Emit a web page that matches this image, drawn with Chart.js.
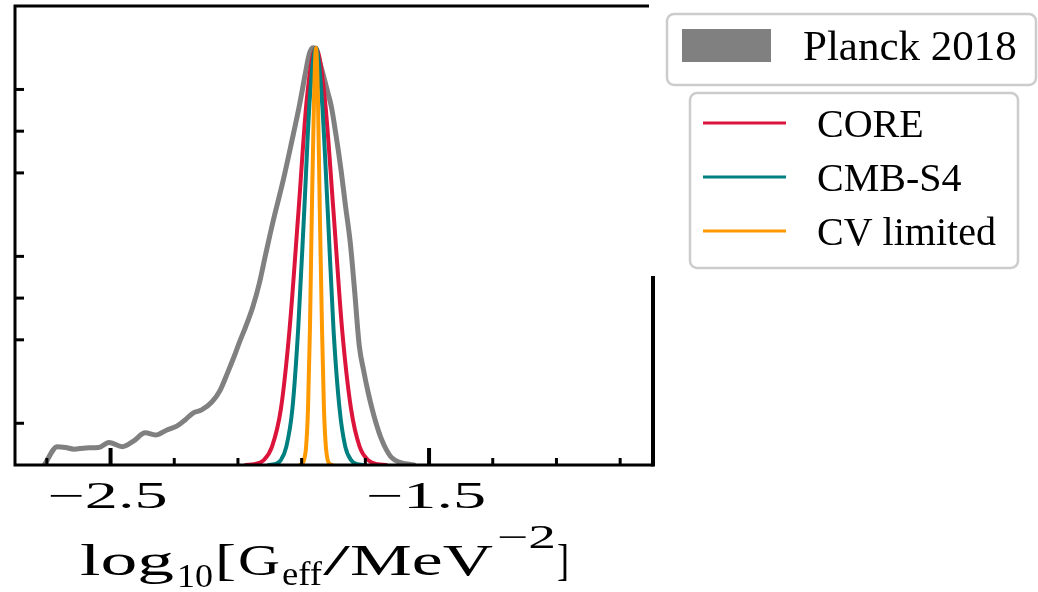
<!DOCTYPE html>
<html>
<head>
<meta charset="utf-8">
<script src="https://cdn.jsdelivr.net/npm/chart.js@4.4.1/dist/chart.umd.min.js"></script>
<style>
  html, body { margin: 0; padding: 0; background: #fff; }
  #wrap { width: 1038px; height: 592px; }
  canvas { display: block; }
</style>
</head>
<body>
<div id="wrap"><canvas id="geffChart" width="1038" height="592"></canvas></div>
<script>
// --- datos (posteriores normalizadas, pico = 1) --- //

const planckX = [-2.708, -2.667, -2.641, -2.615, -2.578, -2.537, -2.505, -2.463, -2.427, -2.391,
    -2.359, -2.323, -2.292, -2.266, -2.240, -2.214, -2.182, -2.156, -2.132, -2.112,
    -2.094, -2.075, -2.053, -2.033, -2.013, -1.990, -1.958, -1.932, -1.906, -1.888,
    -1.876, -1.865, -1.855, -1.845, -1.833, -1.818, -1.807, -1.792, -1.776, -1.763,
    -1.747, -1.734, -1.719, -1.705, -1.693, -1.680, -1.667, -1.650, -1.635, -1.619,
    -1.594, -1.547];
const planckY = [0, 0.044, 0.042, 0.038, 0.041, 0.042, 0.054, 0.044, 0.058, 0.077,
    0.072, 0.084, 0.093, 0.108, 0.125, 0.132, 0.151, 0.179, 0.222, 0.260,
    0.297, 0.333, 0.380, 0.435, 0.505, 0.583, 0.682, 0.772, 0.866, 0.940,
    0.985, 1.0, 0.995, 0.970, 0.937, 0.893, 0.860, 0.790, 0.705, 0.625,
    0.530, 0.420, 0.285, 0.225, 0.180, 0.138, 0.102, 0.063, 0.038, 0.019,
    0.007, 0];

const coreX = [-2.075, -2.048, -2.020, -1.993, -1.965, -1.938, -1.910, -1.883, -1.855,
    -1.828, -1.800, -1.773, -1.745, -1.718, -1.690, -1.663, -1.635];
const coreY = [0.0003, 0.002, 0.011, 0.044, 0.135, 0.325, 0.607, 0.883, 1,
    0.883, 0.607, 0.325, 0.135, 0.044, 0.011, 0.002, 0.0003];

const s4X = [-2.003, -1.985, -1.966, -1.948, -1.929, -1.911, -1.892, -1.874, -1.855,
    -1.837, -1.818, -1.800, -1.781, -1.763, -1.744, -1.726, -1.707];
const s4Y = [0.0003, 0.002, 0.011, 0.044, 0.135, 0.325, 0.607, 0.883, 1,
    0.883, 0.607, 0.325, 0.135, 0.044, 0.011, 0.002, 0.0003];

const cvX = [-1.905, -1.899, -1.893, -1.886, -1.880, -1.874, -1.868, -1.861, -1.855,
    -1.849, -1.843, -1.836, -1.830, -1.824, -1.818, -1.811, -1.805];
const cvY = [0.0003, 0.002, 0.011, 0.044, 0.135, 0.325, 0.607, 0.883, 1,
    0.883, 0.607, 0.325, 0.135, 0.044, 0.011, 0.002, 0.0003];

const xTicks = [-2.7, -2.5, -2.3, -2.1, -1.9, -1.7, -1.5, -1.3, -1.1, -0.9];
const xMajorTicks = [-2.5, -1.5];
const xTickLabels = ['−2.5', '−1.5'];
const yTicks = [0.1, 0.3, 0.4, 0.5, 0.7, 0.8, 0.9];

const seriesNames = ['Planck 2018', 'CORE', 'CMB-S4', 'CV limited'];

const themeColors = {
    planck: '#808080',
    core: '#dc143c',
    s4: '#008080',
    cv: '#ff9900',
    frame: '#000000',
    legendBorder: '#cccccc',
    text: '#000000'
};

const SERIF = '"Liberation Serif", "DejaVu Serif", serif';

function toPoints(xs, ys) {
    return xs.map((v, i) => ({ x: v, y: ys[i] }));
}

// la figura original esta estirada en horizontal: ajusto cada trozo a su ancho
function fitText(ctx, str, x0, x1, y, size) {
    ctx.save();
    ctx.font = `${size}px ${SERIF}`;
    const sx = (x1 - x0) / ctx.measureText(str).width;
    ctx.translate(x0, y);
    ctx.scale(sx, 1);
    ctx.textAlign = 'left';
    ctx.textBaseline = 'alphabetic';
    ctx.fillText(str, 0, 0);
    ctx.restore();
}

// marco tipo matplotlib con ticks hacia dentro
const frameAndTicks = {
    id: 'frameAndTicks',
    afterDatasetsDraw(chart) {
        const { ctx, chartArea: { left, right, top, bottom }, scales: { x, y } } = chart;
        ctx.save();
        ctx.strokeStyle = themeColors.frame;
        ctx.lineCap = 'butt';

        xTicks.forEach(v => {
            const px = x.getPixelForValue(v);
            const major = xMajorTicks.includes(v);
            ctx.lineWidth = major ? 4 : 3;
            ctx.beginPath();
            ctx.moveTo(px, bottom);
            ctx.lineTo(px, bottom - (major ? 17 : 7));
            ctx.stroke();
        });

        ctx.lineWidth = 3;
        yTicks.forEach(v => {
            const py = y.getPixelForValue(v);
            ctx.beginPath();
            ctx.moveTo(left, py);
            ctx.lineTo(left + 9, py);
            ctx.stroke();
        });

        ctx.lineWidth = 3;
        ctx.beginPath();
        ctx.moveTo(left, top - 1.5);
        ctx.lineTo(left, bottom + 1.5);
        ctx.moveTo(left - 1.5, bottom);
        ctx.lineTo(right + 1.5, bottom);
        ctx.moveTo(left - 1.5, top);
        ctx.lineTo(right - 3, top);
        ctx.stroke();
        // el lado derecho queda tapado arriba por la leyenda
        ctx.lineWidth = 4;
        ctx.beginPath();
        ctx.moveTo(right + 1, 276);
        ctx.lineTo(right + 1, bottom + 1.5);
        ctx.stroke();
        ctx.restore();
    }
};

const textAndLegend = {
    id: 'textAndLegend',
    afterDraw(chart) {
        const { ctx, chartArea: { bottom }, scales: { x } } = chart;
        ctx.save();
        ctx.fillStyle = themeColors.text;

        xMajorTicks.forEach((v, i) => {
            const c = x.getPixelForValue(v) - 3;
            fitText(ctx, xTickLabels[i], c - 60, c + 60, bottom + 43, 37);
        });

        // log10[Geff/MeV^-2]
        fitText(ctx, 'log', 80, 174, 575, 44);
        fitText(ctx, '10', 177, 213, 587, 33);
        fitText(ctx, '[', 215, 236, 575, 44);
        fitText(ctx, 'G', 238, 280, 575, 44);
        fitText(ctx, 'eff', 282, 322, 585, 33);
        fitText(ctx, '/', 323, 350, 575, 44);
        fitText(ctx, 'MeV', 350, 493, 575, 44);
        fitText(ctx, '−2', 497, 556, 548, 33);
        fitText(ctx, ']', 557, 569, 575, 44);

        // leyenda 1
        ctx.lineWidth = 2.5;
        ctx.strokeStyle = themeColors.legendBorder;
        ctx.fillStyle = '#ffffff';
        ctx.beginPath();
        ctx.roundRect(667, 14, 369, 71, 7);
        ctx.fill();
        ctx.stroke();
        ctx.fillStyle = themeColors.planck;
        ctx.fillRect(682, 29, 89, 33);
        ctx.fillStyle = themeColors.text;
        ctx.font = `43px ${SERIF}`;
        ctx.textBaseline = 'alphabetic';
        ctx.fillText(seriesNames[0], 803, 60);

        // leyenda 2
        ctx.fillStyle = '#ffffff';
        ctx.beginPath();
        ctx.roundRect(690, 93, 328, 175, 7);
        ctx.fill();
        ctx.stroke();
        const rows = [
            { name: seriesNames[1], color: themeColors.core, y: 123, base: 137 },
            { name: seriesNames[2], color: themeColors.s4, y: 177, base: 191 },
            { name: seriesNames[3], color: themeColors.cv, y: 231, base: 245 }
        ];
        ctx.font = `40px ${SERIF}`;
        rows.forEach(r => {
            ctx.strokeStyle = r.color;
            ctx.lineWidth = 3;
            ctx.beginPath();
            ctx.moveTo(703, r.y);
            ctx.lineTo(786, r.y);
            ctx.stroke();
            ctx.fillStyle = themeColors.text;
            ctx.fillText(r.name, 817, r.base);
        });
        ctx.restore();
    }
};

const lineStyle = {
    showLine: true,
    pointRadius: 0,
    pointHoverRadius: 0,
    cubicInterpolationMode: 'monotone',
    borderCapStyle: 'round',
    borderJoinStyle: 'round',
    fill: false
};

new Chart(document.getElementById('geffChart'), {
    type: 'scatter',
    data: {
        datasets: [
            { ...lineStyle, label: seriesNames[3], data: toPoints(cvX, cvY), borderColor: themeColors.cv, borderWidth: 4, order: 0 },
            { ...lineStyle, label: seriesNames[2], data: toPoints(s4X, s4Y), borderColor: themeColors.s4, borderWidth: 4, order: 1 },
            { ...lineStyle, label: seriesNames[1], data: toPoints(coreX, coreY), borderColor: themeColors.core, borderWidth: 4, order: 2 },
            { ...lineStyle, label: seriesNames[0], data: toPoints(planckX, planckY), borderColor: themeColors.planck, borderWidth: 5, order: 3 }
        ]
    },
    plugins: [frameAndTicks, textAndLegend],
    options: {
        responsive: false,
        animation: false,
        events: [],
        layout: { padding: { left: 15, top: 6, right: 386, bottom: 127 } },
        plugins: { legend: { display: false }, tooltip: { enabled: false } },
        scales: {
            x: { type: 'linear', min: -2.8, max: -0.8, display: false },
            y: { type: 'linear', min: 0, max: 1.1, display: false }
        }
    }
});
</script>
</body>
</html>
